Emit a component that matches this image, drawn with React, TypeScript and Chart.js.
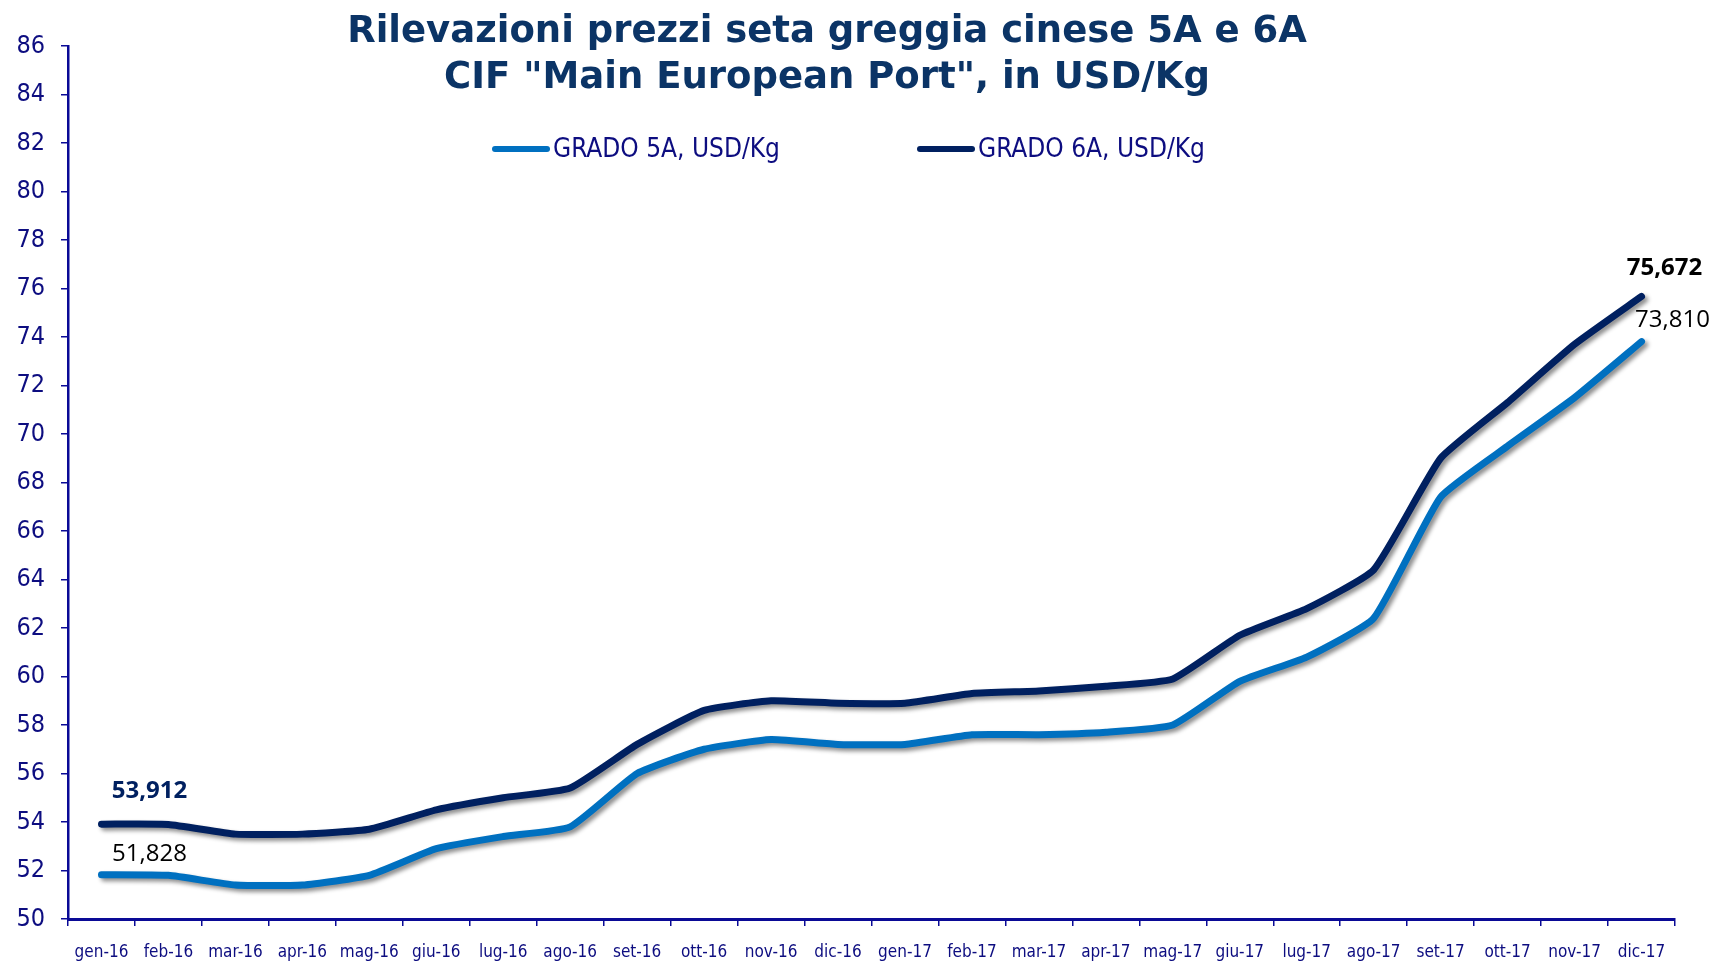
import React, { useEffect, useRef } from "react";
import { Chart, registerables } from "chart.js";

Chart.register(...registerables);

const categories = [
  "gen-16", "feb-16", "mar-16", "apr-16", "mag-16", "giu-16", "lug-16", "ago-16",
  "set-16", "ott-16", "nov-16", "dic-16", "gen-17", "feb-17", "mar-17", "apr-17",
  "mag-17", "giu-17", "lug-17", "ago-17", "set-17", "ott-17", "nov-17", "dic-17",
];

const grado5A = [
  51.828, 51.8, 51.4, 51.4, 51.8, 52.9, 53.4, 53.8,
  56.0, 57.0, 57.4, 57.2, 57.2, 57.6, 57.6, 57.7,
  58.0, 59.8, 60.8, 62.4, 67.4, 69.5, 71.5, 73.81,
];

const grado6A = [
  53.912, 53.9, 53.5, 53.5, 53.7, 54.5, 55.0, 55.4,
  57.2, 58.6, 59.0, 58.9, 58.9, 59.3, 59.4, 59.6,
  59.9, 61.7, 62.8, 64.4, 69.0, 71.3, 73.7, 75.672,
];

const seriesNames = ["GRADO 5A, USD/Kg", "GRADO 6A, USD/Kg"];
const titleLines = ['Rilevazioni prezzi seta greggia cinese 5A e 6A', 'CIF "Main European Port", in USD/Kg'];

const COL5 = "#0070C0";
const COL6 = "#002060";
const AXIS = "#0A0A96";
const TICK = "#0D0D80";

const fmt = (v: number) => v.toFixed(3).replace(".", ",");

const shadowPlugin = {
  id: "lineShadow",
  beforeDatasetDraw(chart: any) {
    const ctx = chart.ctx;
    ctx.save();
    ctx.shadowColor = "rgba(0,0,0,0.45)";
    ctx.shadowOffsetX = 3;
    ctx.shadowOffsetY = 3;
    ctx.shadowBlur = 4;
  },
  afterDatasetDraw(chart: any) {
    chart.ctx.restore();
  },
};

const decorPlugin = {
  id: "decor",
  afterDraw(chart: any) {
    const ctx = chart.ctx;
    ctx.save();
    // title
    ctx.fillStyle = "#0B3466";
    ctx.font = "bold 37px 'DejaVu Sans'";
    ctx.textAlign = "center";
    ctx.textBaseline = "middle";
    ctx.fillText(titleLines[0], 827, 32);
    ctx.fillText(titleLines[1], 827, 78);

    // legend
    const items = [
      { x: 495, color: COL5, text: seriesNames[0] },
      { x: 920, color: COL6, text: seriesNames[1] },
    ];
    ctx.font = "26px 'DejaVu Sans Condensed', 'DejaVu Sans'";
    ctx.textAlign = "left";
    for (const it of items) {
      ctx.strokeStyle = it.color;
      ctx.lineWidth = 6;
      ctx.lineCap = "round";
      ctx.beginPath();
      ctx.moveTo(it.x, 149);
      ctx.lineTo(it.x + 52, 149);
      ctx.stroke();
      ctx.fillStyle = TICK;
      ctx.fillText(it.text, it.x + 58, 150);
    }

    // data labels
    const m5 = chart.getDatasetMeta(0).data;
    const m6 = chart.getDatasetMeta(1).data;
    const last = categories.length - 1;
    ctx.textAlign = "center";
    ctx.font = "bold 24px 'Open Sans'";
    ctx.fillStyle = COL6;
    ctx.fillText(fmt(grado6A[0]), m6[0].x + 48, m6[0].y - 33);
    ctx.fillStyle = "#000000";
    ctx.fillText(fmt(grado6A[last]), m6[last].x + 23, m6[last].y - 28);
    ctx.font = "24px 'Open Sans'";
    ctx.fillText(fmt(grado5A[0]), m5[0].x + 48, m5[0].y - 21);
    ctx.fillText(fmt(grado5A[last]), m5[last].x + 31, m5[last].y - 21);
    ctx.restore();
  },
};

export default function App() {
  const ref = useRef<HTMLCanvasElement>(null);

  useEffect(() => {
    document.body.style.margin = "0";
    const chart = new Chart(ref.current!, {
      type: "line",
      data: {
        labels: categories,
        datasets: [
          {
            label: seriesNames[0],
            data: grado5A,
            borderColor: COL5,
            backgroundColor: COL5,
            borderWidth: 7,
            pointRadius: 0,
            tension: 0.15,
            borderJoinStyle: "round",
            borderCapStyle: "round",
          },
          {
            label: seriesNames[1],
            data: grado6A,
            borderColor: COL6,
            backgroundColor: COL6,
            borderWidth: 7,
            pointRadius: 0,
            tension: 0.15,
            borderJoinStyle: "round",
            borderCapStyle: "round",
          },
        ],
      },
      options: {
        responsive: false,
        animation: false,
        layout: { padding: { top: 46, right: 42, left: 0, bottom: 0 } },
        plugins: {
          legend: { display: false },
          title: { display: false },
          tooltip: { enabled: false },
        },
        scales: {
          x: {
            offset: true,
            grid: {
              offset: true,
              drawOnChartArea: false,
              drawTicks: true,
              tickLength: 7,
              color: AXIS,
              lineWidth: 1.5,
            },
            border: { color: AXIS, width: 3 },
            ticks: {
              color: TICK,
              font: { family: "'DejaVu Sans Condensed', 'DejaVu Sans'", size: 17 },
              padding: 16,
              maxRotation: 0,
              autoSkip: false,
            },
            afterFit(scale: any) {
              scale.height = 44;
            },
          },
          y: {
            min: 50,
            max: 86,
            grid: {
              drawOnChartArea: false,
              drawTicks: true,
              tickLength: 7,
              color: AXIS,
              lineWidth: 1.5,
            },
            border: { color: AXIS, width: 2.5 },
            ticks: {
              stepSize: 2,
              color: TICK,
              font: { family: "'DejaVu Sans Condensed', 'DejaVu Sans'", size: 25 },
              padding: 16,
            },
            afterFit(scale: any) {
              scale.width = 68;
            },
          },
        },
      },
      plugins: [shadowPlugin, decorPlugin],
    });
    return () => chart.destroy();
  }, []);

  return (
    <div style={{ position: "absolute", left: 0, top: 0, width: 1717, height: 963, background: "#fff" }}>
      <canvas ref={ref} width={1717} height={963} />
    </div>
  );
}
